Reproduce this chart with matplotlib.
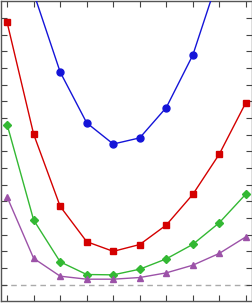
import matplotlib
matplotlib.use('Agg')
import matplotlib.pyplot as plt
import numpy as np

# x positions (one per sample)
x = np.arange(10)

# series values
blue_vals = [23.0, 17.5, 12.75, 9.7, 8.43, 8.8, 10.62, 13.77, 18.6, 24.5]
red_vals = [15.73, 9.02, 4.69, 2.57, 1.99, 2.40, 3.57, 5.41, 7.83, 10.92]
green_vals = [9.60, 3.87, 1.36, 0.60, 0.58, 0.92, 1.54, 2.41, 3.71, 5.43]
purple_vals = [5.25, 1.57, 0.50, 0.32, 0.32, 0.42, 0.70, 1.16, 1.87, 2.86]
baseline = 0.0

fig = plt.figure(figsize=(2.53, 3.03), dpi=100)
ax = fig.add_axes([0.004, 0.006, 0.992, 0.99])

ax.plot(x, blue_vals, color='#1414d8', lw=1.0, marker='o', ms=5, zorder=4)
ax.plot(x, red_vals, color='#d40000', lw=1.0, marker='s', ms=4.6, zorder=4)
ax.plot(x, green_vals, color='#33b833', lw=1.0, marker='D', ms=3.8, zorder=4)
ax.plot(x, purple_vals, color='#9c52a8', lw=1.0, marker='^', ms=5, zorder=4)
ax.axhline(baseline, color='#aaaaaa', lw=1.0, ls=(0, (4, 3)), zorder=1)

ax.set_xlim(-0.23, 9.23)
ax.set_ylim(-1.0, 17.0)
ax.set_xticks(x)
ax.set_yticks(np.arange(0, 17, 1))
ax.tick_params(direction='in', top=True, right=True, length=4, width=0.8,
               color='#444444', labelbottom=False, labelleft=False)
for s in ax.spines.values():
    s.set_color('#555555')
    s.set_linewidth(1.0)

plt.savefig('out.png', dpi=100)
